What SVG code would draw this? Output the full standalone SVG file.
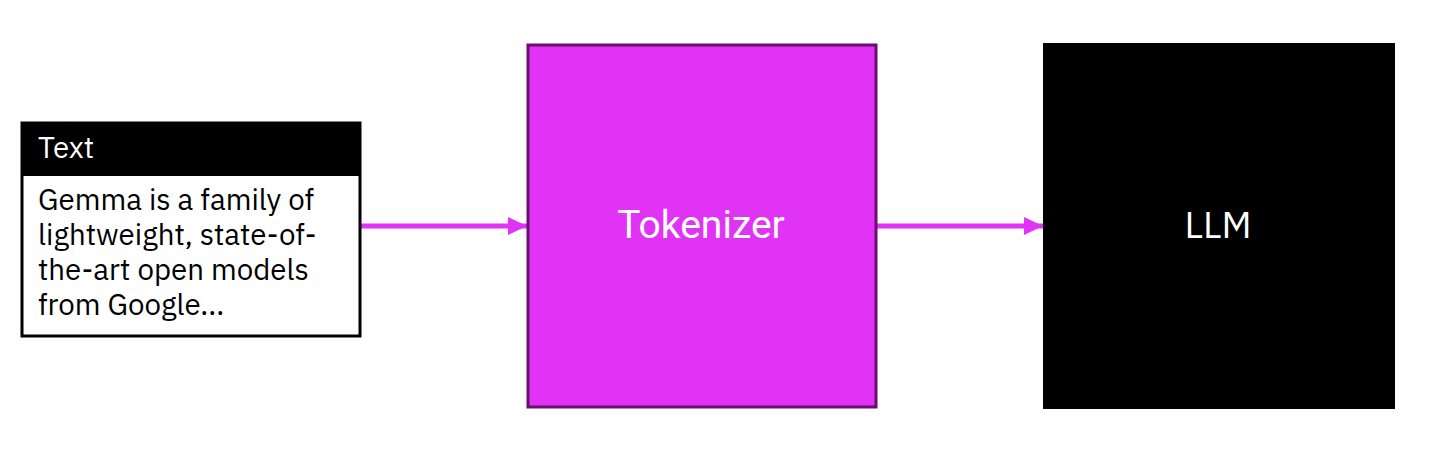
<svg xmlns="http://www.w3.org/2000/svg" width="1430" height="452" viewBox="0 0 1430 452">
<style>
.body{font-family:"IBM Plex Sans","Noto Sans","Open Sans",sans-serif;font-size:29.5px;fill:#000}
.hdr{font-family:"IBM Plex Sans","Noto Sans","Open Sans",sans-serif;font-size:29.5px;fill:#fff}
.big{font-family:Roboto,"Noto Sans",sans-serif;font-size:39px;fill:#fff;text-anchor:middle}
.conn{stroke:#e033f5;stroke-width:5;fill:none}
</style>
<defs>
<marker id="ah" markerUnits="userSpaceOnUse" markerWidth="20" markerHeight="20" refX="19" refY="9" orient="auto">
<path d="M0,0 L19,9 L0,18 Z" fill="#e033f5"/>
</marker>
</defs>
<rect width="1430" height="452" fill="#fff"/>
<g id="connectors">
<line class="conn" x1="360" y1="226" x2="527" y2="226" marker-end="url(#ah)"/>
<line class="conn" x1="877" y1="226" x2="1043" y2="226" marker-end="url(#ah)"/>
</g>
<g id="text-node">
<rect x="22" y="123" width="338" height="213" fill="#fff" stroke="#000" stroke-width="3"/>
<rect x="22" y="123" width="338" height="53" fill="#000"/>
<text class="hdr" x="38" y="158">Text</text>
<text class="body" x="38" y="210">Gemma is a family of</text>
<text class="body" x="38" y="245">lightweight, state-of-</text>
<text class="body" x="38" y="280">the-art open models</text>
<text class="body" x="38" y="315">from Google...</text>
</g>
<g id="tokenizer">
<rect x="528" y="45" width="348" height="362" fill="#e033f5" stroke="#6a0f6e" stroke-width="3"/>
<text class="big" x="701" y="238">Tokenizer</text>
</g>
<g id="llm">
<rect x="1043" y="43" width="352" height="366" fill="#000"/>
<text class="big" x="1218" y="238" style="font-family:'IBM Plex Sans','Noto Sans',sans-serif;font-size:37px">LLM</text>
</g>
</svg>
